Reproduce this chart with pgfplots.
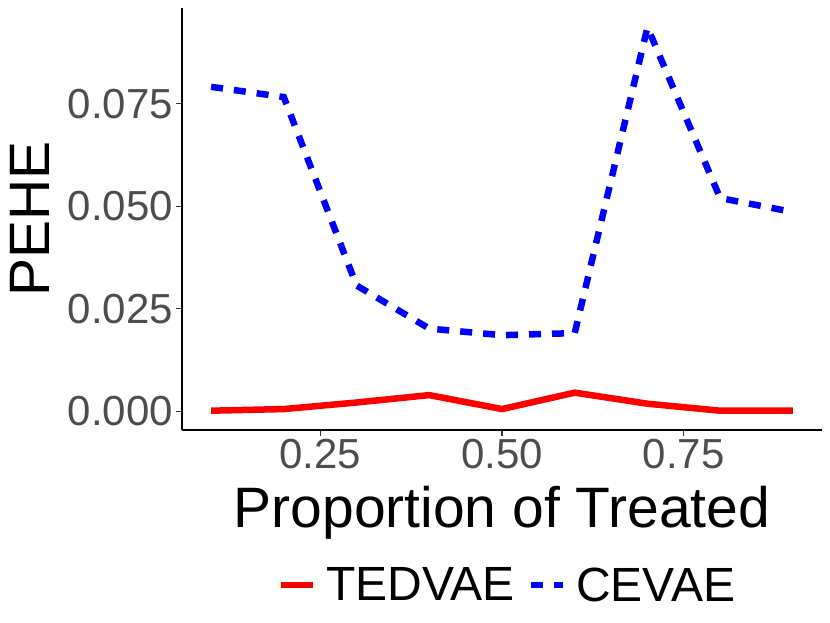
\documentclass[border=0pt]{standalone}
\usepackage{fontspec}
\setmainfont{Liberation Sans}
\usepackage{pgfplots}
\pgfplotsset{compat=1.18}
\definecolor{ggred}{HTML}{FF0000}
\definecolor{ggblue}{HTML}{0000FF}
\definecolor{gggray}{HTML}{4D4D4D}
\definecolor{tickgray}{HTML}{333333}
\begin{document}
\begin{tikzpicture}
\useasboundingbox (-182pt,-193pt) rectangle (648pt,430pt);
\begin{axis}[
  scale only axis,
  width=640pt, height=422pt,
  xmin=0.06, xmax=0.94,
  ymin=-0.0045, ymax=0.0983,
  axis lines=left,
  axis line style={-, black, line width=1.2pt},
  tick align=outside,
  tick pos=left,
  major tick length=5.5pt,
  every tick/.style={tickgray, line width=1.2pt},
  xtick={0.25,0.5,0.75},
  ytick={0,0.025,0.05,0.075},
  scaled x ticks=false, scaled y ticks=false,
  /pgf/number format/assume math mode=true,
  xticklabel style={font=\fontsize{42}{50}\selectfont, text=gggray,
    /pgf/number format/.cd, fixed, fixed zerofill, precision=2},
  yticklabel style={font=\fontsize{42}{50}\selectfont, text=gggray,
    /pgf/number format/.cd, fixed, fixed zerofill, precision=3},
  xlabel={Proportion of Treated},
  ylabel={PEHE},
  xlabel style={font=\fontsize{57}{66}\selectfont,
    at={([yshift=-97pt]axis description cs:0.5,0)}, anchor=base},
  ylabel style={font=\fontsize{57}{66}\selectfont,
    at={([xshift=-132pt]axis description cs:0,0.5)}, anchor=base},
  legend columns=2,
  legend style={draw=none, fill=none, inner sep=0pt,
    font=\fontsize{48}{56}\selectfont,
    at={([xshift=4.5pt,yshift=-155pt]axis description cs:0.5,0)},
    anchor=center,
    nodes={inner sep=0pt},
    /tikz/every odd column/.append style={column sep=10pt},
    /tikz/every even column/.append style={column sep=13pt}},
  legend image code/.code={\draw[#1] (0pt,0pt) -- (32pt,0pt);},
]
\addplot[ggred, line width=6.5pt, line join=round] coordinates {
  (0.1,0.0002) (0.2,0.0006) (0.3,0.0022) (0.4,0.0040) (0.5,0.0006)
  (0.6,0.0046) (0.7,0.0019) (0.8,0.0002) (0.9,0.0002)};
\addlegendentry{TEDVAE}
\addplot[ggblue, line width=6.5pt, dash pattern=on 12pt off 11pt] coordinates {
  (0.1,0.0791) (0.2,0.0766) (0.3,0.0307) (0.4,0.0202) (0.5,0.0186)
  (0.6,0.0191) (0.7,0.0936) (0.8,0.0520) (0.9,0.0486)};
\addlegendentry{CEVAE}
\end{axis}
\end{tikzpicture}
\end{document}
